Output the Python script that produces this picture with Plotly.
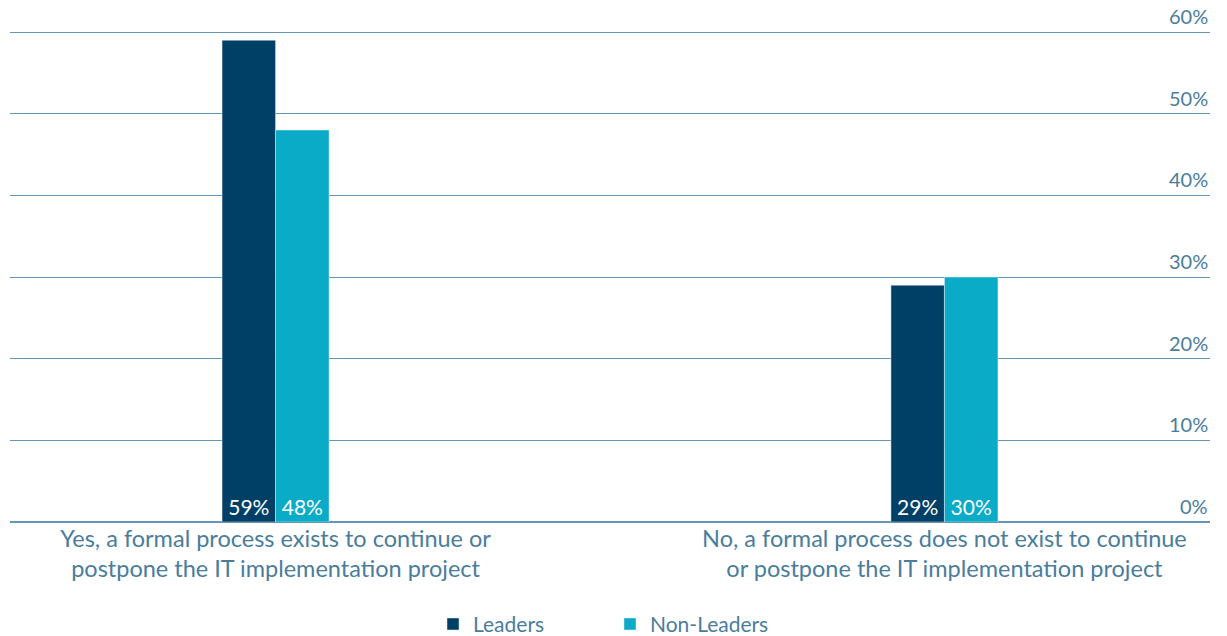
import plotly.graph_objects as go

categories = [
    "Yes, a formal process exists to continue or<br>postpone the IT implementation project",
    "No, a formal process does not exist to continue<br>or postpone the IT implementation project",
]
leaders = [59, 29]
non_leaders = [48, 30]
tick_vals = [0, 10, 20, 30, 40, 50, 60]
tick_text = ["0%", "10%", "20%", "30%", "40%", "50%", "60%"]

font_family = "Lato, 'Open Sans', sans-serif"
label_color = "#4a7d9c"
grid_color = "#6496b8"

fig = go.Figure()
fig.add_trace(go.Bar(
    name="Leaders", x=categories, y=leaders,
    marker_color="#003f66",
    text=[f"{v}%" for v in leaders], textposition="inside", insidetextanchor="start",
    textfont=dict(color="white", size=21, family=font_family),
))
fig.add_trace(go.Bar(
    name="Non-Leaders", x=categories, y=non_leaders,
    marker_color="#09abc7",
    text=[f"{v}%" for v in non_leaders], textposition="inside", insidetextanchor="start",
    textfont=dict(color="white", size=21, family=font_family),
))

fig.update_layout(
    width=1227, height=636,
    margin=dict(l=10, r=17, t=30, b=114, autoexpand=False),
    plot_bgcolor="white", paper_bgcolor="white",
    barmode="group", bargap=0.84, bargroupgap=0,
    font=dict(family=font_family, color=label_color),
    xaxis=dict(
        type="category", range=[-0.397, 1.397],
        tickfont=dict(size=23.5, color=label_color),
        showgrid=False, showline=False, ticks="", automargin=False,
        ticklabelstandoff=0,
    ),
    yaxis=dict(
        side="right", range=[0, 60.25],
        tickvals=tick_vals, showticklabels=False,
        showgrid=True, gridcolor=grid_color, gridwidth=1,
        zeroline=True, zerolinecolor=grid_color, zerolinewidth=2,
        showline=False, ticks="", automargin=False,
    ),
    legend=dict(
        orientation="h", x=0.5, xanchor="center", y=-0.208, yanchor="middle",
        font=dict(size=21, color=label_color),
        itemwidth=30, traceorder="normal",
        entrywidth=132, entrywidthmode="pixels",
    ),
    uniformtext=dict(minsize=10, mode="show"),
)

for v, t in zip(tick_vals, tick_text):
    fig.add_annotation(
        x=1, xref="paper", xanchor="right",
        y=v, yref="y", yanchor="bottom", yshift=2,
        text=t, showarrow=False,
        font=dict(size=20, color=label_color, family=font_family),
    )

fig.write_html(
    "out.html",
    config={"displayModeBar": False},
    post_script="document.body.style.margin='0';",
)
